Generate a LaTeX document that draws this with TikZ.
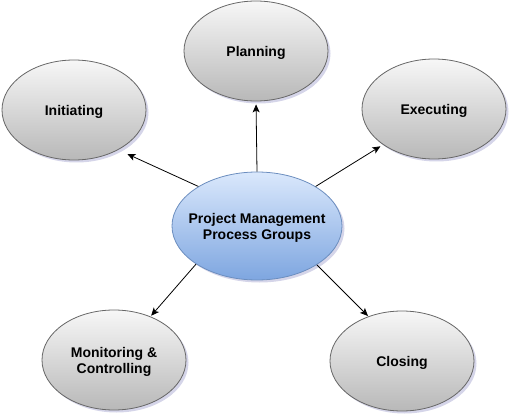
\documentclass[tikz,border=0pt]{standalone}
\usepackage{fontspec}
\setmainfont{Liberation Sans}
\usetikzlibrary{shapes.geometric,arrows.meta,shadows}
\definecolor{grayline}{HTML}{666666}
\definecolor{graytop}{HTML}{F7F7F7}
\definecolor{graybot}{HTML}{B8B8B8}
\definecolor{blueline}{HTML}{6C8EBF}
\definecolor{bluetop}{HTML}{DAE8FC}
\definecolor{bluebot}{HTML}{7EA6E0}
\tikzset{
  every label/.style={align=center, inner sep=0pt, yshift=-2pt, font=\fontsize{14}{16}\selectfont\bfseries, text=black},
  phase/.style={ellipse, draw=grayline, line width=0.8pt, top color=graytop, bottom color=graybot,
    minimum width=144pt, minimum height=100pt, inner sep=0pt,
    drop shadow={shadow xshift=2.5pt, shadow yshift=-2.5pt, opacity=0.25, fill=gray!70!blue}},
  hub/.style={phase, draw=blueline, top color=bluetop, bottom color=bluebot,
    minimum width=170pt, minimum height=108pt},
  link/.style={-{Stealth[length=8pt,width=7pt,inset=2pt]}, line width=0.8pt, black}
}
\begin{document}
\begin{tikzpicture}[x=1pt,y=-1pt]
\useasboundingbox (0,0) rectangle (512,417);
\node[hub, label={center:Project Management\\Process Groups}] (c) at (257,226) {};
\node[phase, label={center:Planning}] (plan) at (256,51) {};
\node[phase, label={center:Initiating}] (init) at (74,110) {};
\node[phase, label={center:Executing}] (exec) at (434,109) {};
\node[phase, label={center:Monitoring \&\\Controlling}] (mon) at (114,360) {};
\node[phase, label={center:Closing}] (clos) at (402,361) {};
\draw[link, shorten >=3pt] (c.90) -- (plan.-90);
\draw[link, shorten >=10pt] (c.146.5) -- (init.-42.7);
\draw[link, shorten >=3pt] (c.34.8) -- (exec.215);
\draw[link, shorten >=1pt] (c.212) -- (mon.50);
\draw[link, shorten >=0.5pt] (c.-33) -- (clos.127);
\end{tikzpicture}
\end{document}
